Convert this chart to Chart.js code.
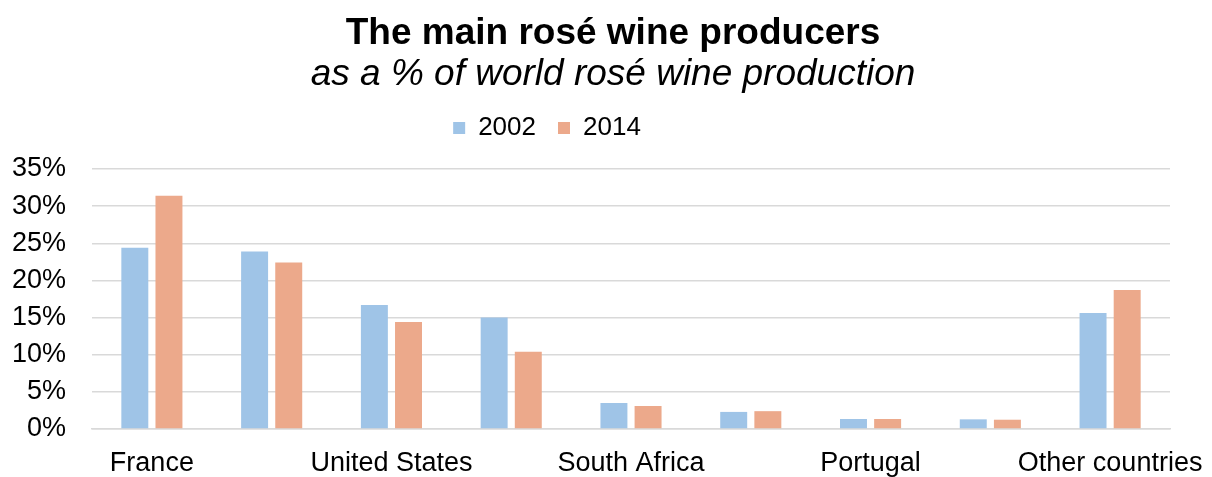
<!DOCTYPE html>
<html>
<head>
<meta charset="utf-8">
<script src="https://cdn.jsdelivr.net/npm/chart.js@4/dist/chart.umd.min.js"></script>
<style>
  html, body { margin: 0; padding: 0; background: #fff; }
  #wrap { width: 1212px; height: 477px; }
</style>
</head>
<body>
<div id="wrap"><canvas id="chart"></canvas></div>
<script>
// Data
const categories = ['France', 'Spain', 'United States', 'Italy', 'South Africa',
  'Germany', 'Portugal', 'Australia', 'Other countries'];
const values2002 = [24.4, 23.9, 16.7, 15.0, 3.5, 2.3, 1.35, 1.3, 15.6];
const values2014 = [31.4, 22.4, 14.4, 10.4, 3.1, 2.4, 1.35, 1.25, 18.7];
const yTicks = [0, 5, 10, 15, 20, 25, 30, 35];

const FONT = "'Liberation Sans', Arial, sans-serif";
Chart.defaults.font.family = FONT;
Chart.defaults.color = '#000';

// nudge the title, subtitle and legend to where they sit in the original
const headerShift = {
  id: 'headerShift',
  afterLayout(chart) {
    const lg = chart.legend;
    chart.boxes.forEach(box => {
      if (box === lg) {
        box.left -= 38;
        box.right -= 38;
        box.top -= 18;
        box.bottom -= 18;
      } else if (box.position === 'top' && !box.axis) {
        // title + subtitle
        box.left += 28;
        box.right += 28;
      }
    });
  }
};

const ctx = document.getElementById('chart').getContext('2d');
new Chart(ctx, {
  type: 'bar',
  data: {
    labels: categories,
    datasets: [
      {
        label: '2002',
        data: values2002,
        backgroundColor: '#9fc4e7',
        categoryPercentage: 0.57,
        barPercentage: 0.79
      },
      {
        label: '2014',
        data: values2014,
        backgroundColor: '#eca98b',
        categoryPercentage: 0.57,
        barPercentage: 0.79
      }
    ]
  },
  options: {
    responsive: true,
    maintainAspectRatio: false,
    animation: false,
    layout: { padding: { left: 0, right: 42, top: 0, bottom: 0 } },
    plugins: {
      title: {
        display: true,
        text: 'The main rosé wine producers',
        font: { size: 37, weight: 'bold', lineHeight: 1.0 },
        padding: { top: 15, bottom: 2 }
      },
      subtitle: {
        display: true,
        text: 'as a % of world rosé wine production',
        font: { size: 37, style: 'italic', lineHeight: 1.0 },
        color: '#000',
        padding: { top: 2, bottom: 18 }
      },
      legend: {
        position: 'top',
        labels: {
          boxWidth: 12,
          boxHeight: 12,
          padding: 22,
          font: { size: 26 }
        }
      }
    },
    scales: {
      x: {
        grid: { display: false },
        border: { color: '#d9d9d9', width: 1.5 },
        afterFit: function(scale) {
          scale.height = 48;
          scale.paddingLeft = 0;
          scale.paddingRight = 0;
        },
        ticks: {
          autoSkip: false,
          maxRotation: 0,
          padding: 10,
          font: { size: 27 },
          callback: function(value, index) {
            return index % 2 === 0 ? categories[index] : '';
          }
        }
      },
      y: {
        min: 0,
        max: 35,
        afterBuildTicks: function(scale) {
          scale.ticks = yTicks.map(v => ({ value: v }));
        },
        afterFit: function(scale) {
          scale.width = 92;
        },
        grid: { color: '#d9d9d9', lineWidth: 1.5, drawTicks: false },
        border: { display: false },
        ticks: {
          padding: 26,
          font: { size: 27 },
          callback: v => v + '%'
        }
      }
    }
  },
  plugins: [headerShift]
});
</script>
</body>
</html>
